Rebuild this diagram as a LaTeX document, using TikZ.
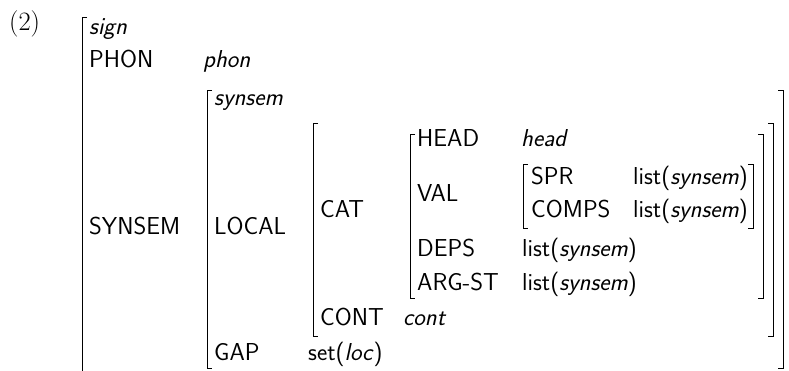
\documentclass[tikz,border=0pt]{standalone}
\newcommand\avmL[3]{\draw[brk] (#1+5,#2) -- (#1,#2) -- (#1,#3) -- (#1+5,#3);}
\newcommand\avmR[3]{\draw[brk] (#1-5,#2) -- (#1,#2) -- (#1,#3) -- (#1-5,#3);}
\begin{document}
\begin{tikzpicture}[x=1pt,y=-1pt,
  lbl/.style={anchor=base west,inner sep=0pt,font=\fontsize{24.5}{29}\selectfont\sffamily},
  typ/.style={anchor=base west,inner sep=0pt,font=\fontsize{24.5}{29}\selectfont\sffamily\itshape},
  num/.style={anchor=base west,inner sep=0pt,font=\fontsize{26.5}{31}\selectfont\rmfamily},
  brk/.style={line width=0.9pt}]
\useasboundingbox (0,0) rectangle (789,371);
\clip (0,0) rectangle (789,371);

\node[num] (ex) at (9,31) {(2)};

% outer sign
\draw[brk] (87,17) -- (82,17) -- (82,380);
\node[typ] (sign) at (89,35) {sign};
\node[lbl] (phonA) at (89,68) {PHON};
\node[typ] (phonV) at (203,68) {phon};
\node[lbl] (synsemA) at (89,235) {SYNSEM};

% synsem value
\avmL{207}{90}{368}
\avmR{783}{90}{368}
\node[typ] (synsemT) at (214,106) {synsem};
\node[lbl] (localA) at (214,235) {LOCAL};
\node[lbl] (gapA) at (214,360) {GAP};
\node[lbl] (gapV) at (308,360) {set(\textit{loc})};

% local value
\avmL{313}{123}{336}
\avmR{773}{123}{336}
\node[lbl] (catA) at (320,218) {CAT};
\node[lbl] (contA) at (320,325) {CONT};
\node[typ] (contV) at (403,325) {cont};

% cat value
\avmL{410}{134}{298}
\avmR{763}{134}{298}
\node[lbl] (headA) at (417,147) {HEAD};
\node[typ] (headV) at (521,147) {head};
\node[lbl] (valA) at (417,202) {VAL};
\node[lbl] (depsA) at (417,257) {DEPS};
\node[lbl] (depsV) at (522,257) {list(\textit{synsem})};
\node[lbl] (argA) at (417,290) {ARG-ST};
\node[lbl] (argV) at (522,290) {list(\textit{synsem})};

% val value
\avmL{523}{164}{228}
\avmR{753}{164}{228}
\node[lbl] (sprA) at (531,185) {SPR};
\node[lbl] (sprV) at (633,185) {list(\textit{synsem})};
\node[lbl] (compsA) at (531,218) {COMPS};
\node[lbl] (compsV) at (633,218) {list(\textit{synsem})};
\end{tikzpicture}
\end{document}
